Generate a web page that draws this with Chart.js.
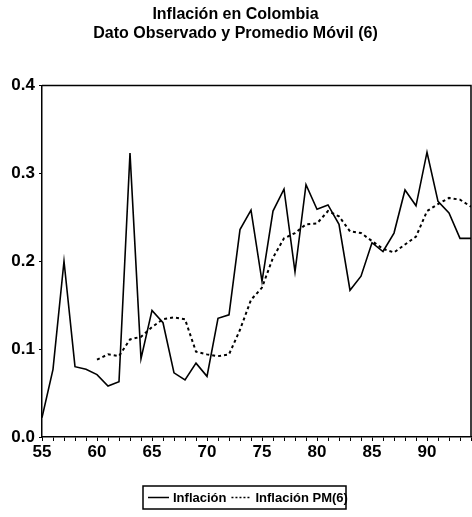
<!DOCTYPE html>
<html>
<head>
<meta charset="utf-8">
<script src="https://cdn.jsdelivr.net/npm/chart.js@4.4.1/dist/chart.umd.min.js"></script>
<style>
  html, body { margin: 0; padding: 0; background: #fff; }
  #wrap { width: 472px; height: 517px; position: relative; }
</style>
</head>
<body>
<div id="wrap"><canvas id="chart" width="472" height="517"></canvas></div>
<script>
// Datos
const years = [];
for (let y = 55; y <= 94; y++) years.push(y);

const inflacion = [0.022, 0.077, 0.200, 0.080, 0.077, 0.071, 0.058, 0.063, 0.323, 0.089,
                   0.144, 0.130, 0.073, 0.065, 0.084, 0.069, 0.135, 0.139, 0.236, 0.258,
                   0.177, 0.257, 0.282, 0.188, 0.287, 0.259, 0.264, 0.242, 0.167, 0.183,
                   0.221, 0.211, 0.232, 0.281, 0.263, 0.324, 0.268, 0.255, 0.226, 0.226];

// promedio movil (6) desde 1960
const pmYears = [60, 61, 62, 63, 64, 65, 66, 67, 68, 69, 70, 71, 72, 73, 74, 75, 76, 77,
                 78, 79, 80, 81, 82, 83, 84, 85, 86, 87, 88, 89, 90, 91, 92, 93, 94];
const inflacionPM = [0.088, 0.094, 0.092, 0.111, 0.114, 0.125, 0.134, 0.136, 0.134, 0.097,
                     0.094, 0.092, 0.094, 0.122, 0.156, 0.170, 0.204, 0.226, 0.232, 0.242,
                     0.243, 0.257, 0.251, 0.234, 0.232, 0.223, 0.214, 0.210, 0.219, 0.228,
                     0.257, 0.265, 0.272, 0.270, 0.262];

const yTicks = [0.0, 0.1, 0.2, 0.3, 0.4];
const xLabels = [55, 60, 65, 70, 75, 80, 85, 90];

const FONT = "'Liberation Sans', Arial, sans-serif";

// marco superior/derecho + leyenda con caja
const framePlugin = {
    id: 'frame',
    afterDraw(chart) {
        const { ctx, chartArea: a } = chart;
        ctx.save();
        ctx.strokeStyle = '#000';
        ctx.lineWidth = 1.5;
        ctx.beginPath();
        ctx.moveTo(a.left, a.top);
        ctx.lineTo(a.right, a.top);
        ctx.lineTo(a.right, a.bottom);
        ctx.stroke();

        // leyenda
        const bx = 143, by = 486, bw = 203, bh = 23;
        ctx.lineWidth = 1.5;
        ctx.strokeRect(bx, by, bw, bh);
        const ly = by + bh / 2;
        ctx.beginPath();
        ctx.moveTo(bx + 5, ly); ctx.lineTo(bx + 26, ly);
        ctx.lineWidth = 1.5; ctx.setLineDash([]); ctx.stroke();
        ctx.fillStyle = '#000';
        ctx.font = 'bold 13px ' + FONT;
        ctx.textBaseline = 'middle';
        ctx.fillText(chart.data.datasets[0].label, bx + 30, ly + 1);
        const w0 = ctx.measureText(chart.data.datasets[0].label).width;
        const dx = bx + 30 + w0 + 5;
        ctx.beginPath();
        ctx.moveTo(dx, ly); ctx.lineTo(dx + 20, ly);
        ctx.setLineDash([2, 2]); ctx.stroke();
        ctx.setLineDash([]);
        ctx.fillText(chart.data.datasets[1].label, dx + 24, ly + 1);
        ctx.restore();
    }
};

new Chart(document.getElementById('chart'), {
    type: 'line',
    data: {
        datasets: [
            {
                label: 'Inflación',
                data: years.map((y, i) => ({ x: y, y: inflacion[i] })),
                borderColor: '#000',
                borderWidth: 1.6,
                pointRadius: 0,
                tension: 0
            },
            {
                label: 'Inflación PM(6)',
                data: pmYears.map((y, i) => ({ x: y, y: inflacionPM[i] })),
                borderColor: '#000',
                borderWidth: 2,
                borderDash: [3, 3],
                pointRadius: 0,
                tension: 0
            }
        ]
    },
    options: {
        responsive: false,
        animation: false,
        layout: { padding: { top: 0, right: 1, bottom: 52, left: 0 } },
        plugins: {
            legend: { display: false },
            tooltip: { enabled: false },
            title: {
                display: true,
                text: ['Inflación en Colombia', 'Dato Observado y Promedio Móvil (6)'],
                color: '#000',
                font: { family: FONT, size: 16, weight: 'bold', lineHeight: 1.2 },
                padding: { top: 5, bottom: 42 }
            }
        },
        scales: {
            x: {
                type: 'linear',
                min: 55,
                max: 94,
                afterBuildTicks(scale) {
                    scale.ticks = years.map(v => ({ value: v }));
                },
                afterFit(scale) { scale.height = 28; },
                ticks: {
                    autoSkip: false,
                    maxRotation: 0,
                    color: '#000',
                    padding: 1,
                    font: { family: FONT, size: 17, weight: 'bold' },
                    callback: v => xLabels.includes(v) ? String(v) : ''
                },
                grid: { drawOnChartArea: false, drawTicks: true, tickLength: 4, color: '#000' },
                border: { display: true, color: '#000', width: 1.5 }
            },
            y: {
                min: 0,
                max: 0.4,
                afterBuildTicks(scale) {
                    scale.ticks = yTicks.map(v => ({ value: v }));
                },
                afterFit(scale) { scale.width = 42; },
                ticks: {
                    color: '#000',
                    padding: 4,
                    font: { family: FONT, size: 17, weight: 'bold' },
                    callback: v => v.toFixed(1)
                },
                grid: { drawOnChartArea: false, drawTicks: true, tickLength: 3, color: '#000' },
                border: { display: true, color: '#000', width: 1.5 }
            }
        }
    },
    plugins: [framePlugin]
});
</script>
</body>
</html>
